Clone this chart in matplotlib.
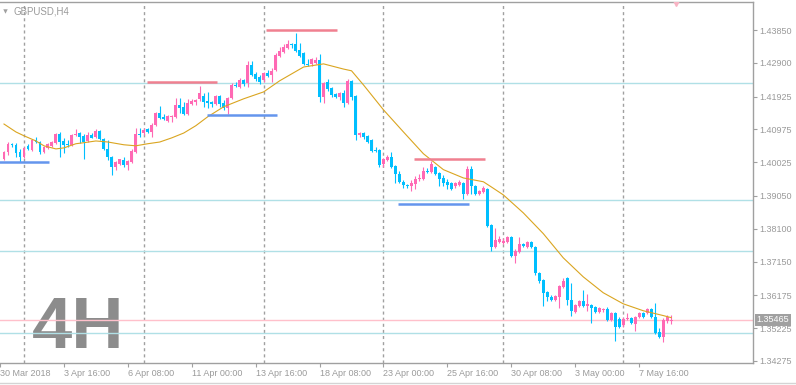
import matplotlib
matplotlib.use("Agg")
import matplotlib.pyplot as plt
import numpy as np

plt.rcParams["font.family"] = ["Liberation Sans", "DejaVu Sans"]

SYMBOL = "GBPUSD,H4"
WATERMARK = "4H"
LAST_PRICE = 1.35465

# H4 bars, bar 0 = Mon 2 Apr 2018 00:00, first bar shown is index -5
FIRST_BAR = -5

opens = [
    1.4012, 1.4033, 1.4056, 1.4053, 1.4033, 1.4018, 1.4050, 1.4038, 1.4067, 1.4061,
    1.4033, 1.4044, 1.4050, 1.4059, 1.4085, 1.4064, 1.4056, 1.4053, 1.4082, 1.4087,
    1.4079, 1.4064, 1.4082, 1.4076, 1.4093, 1.4070, 1.4041, 1.4018, 1.3989, 1.3998,
    1.4009, 1.3995, 1.4004, 1.4033, 1.4085, 1.4087, 1.4099, 1.4090, 1.4110, 1.4145,
    1.4134, 1.4122, 1.4134, 1.4134, 1.4168, 1.4163, 1.4142, 1.4171, 1.4177, 1.4186,
    1.4194, 1.4180, 1.4177, 1.4171, 1.4194, 1.4174, 1.4160, 1.4189, 1.4226, 1.4220,
    1.4241, 1.4232, 1.4284, 1.4258, 1.4249, 1.4241, 1.4261, 1.4255, 1.4270, 1.4310,
    1.4322, 1.4333, 1.4345, 1.4345, 1.4327, 1.4319, 1.4287, 1.4287, 1.4290, 1.4298,
    1.4192, 1.4235, 1.4217, 1.4200, 1.4192, 1.4203, 1.4174, 1.4238, 1.4194, 1.4082,
    1.4087, 1.4079, 1.4067, 1.4038, 1.4038, 1.3998, 1.4009, 1.4018, 1.3992, 1.3969,
    1.3946, 1.3937, 1.3934, 1.3940, 1.3955, 1.3955, 1.3978, 1.3975, 1.3989, 1.3972,
    1.3957, 1.3946, 1.3943, 1.3934, 1.3937, 1.3943, 1.3911, 1.3983, 1.3934, 1.3911,
    1.3917, 1.3926, 1.3822, 1.3758, 1.3772, 1.3770, 1.3772, 1.3787, 1.3732, 1.3744,
    1.3767, 1.3758, 1.3772, 1.3758, 1.3683, 1.3663, 1.3628, 1.3613, 1.3605, 1.3613,
    1.3642, 1.3668, 1.3605, 1.3570, 1.3588, 1.3602, 1.3588, 1.3590, 1.3585, 1.3570,
    1.3576, 1.3579, 1.3547, 1.3567, 1.3550, 1.3533, 1.3550, 1.3553, 1.3535, 1.3556,
    1.3567, 1.3567, 1.3579, 1.3556, 1.3512, 1.3498, 1.3544, 1.3544,
]
highs = [
    1.4035, 1.4061, 1.4058, 1.4059, 1.4041, 1.4047, 1.4056, 1.4070, 1.4076, 1.4064,
    1.4050, 1.4059, 1.4064, 1.4087, 1.4090, 1.4073, 1.4067, 1.4085, 1.4099, 1.4090,
    1.4085, 1.4090, 1.4087, 1.4099, 1.4096, 1.4073, 1.4067, 1.4021, 1.4007, 1.4013,
    1.4018, 1.4009, 1.4041, 1.4102, 1.4102, 1.4102, 1.4102, 1.4116, 1.4148, 1.4165,
    1.4142, 1.4139, 1.4139, 1.4189, 1.4189, 1.4177, 1.4186, 1.4186, 1.4186, 1.4223,
    1.4203, 1.4206, 1.4180, 1.4197, 1.4197, 1.4183, 1.4192, 1.4232, 1.4235, 1.4246,
    1.4244, 1.4296, 1.4296, 1.4264, 1.4255, 1.4264, 1.4270, 1.4275, 1.4319, 1.4336,
    1.4345, 1.4356, 1.4347, 1.4376, 1.4347, 1.4322, 1.4301, 1.4304, 1.4307, 1.4316,
    1.4235, 1.4244, 1.4220, 1.4203, 1.4206, 1.4212, 1.4244, 1.4241, 1.4197, 1.4090,
    1.4090, 1.4082, 1.4070, 1.4047, 1.4041, 1.4015, 1.4024, 1.4033, 1.3995, 1.3978,
    1.3952, 1.3940, 1.3952, 1.3963, 1.3969, 1.3989, 1.3986, 1.4007, 1.3992, 1.3975,
    1.3966, 1.3955, 1.3946, 1.3946, 1.3952, 1.3946, 1.3992, 1.3992, 1.3937, 1.3923,
    1.3934, 1.3929, 1.3824, 1.3813, 1.3790, 1.3784, 1.3790, 1.3790, 1.3752, 1.3787,
    1.3770, 1.3775, 1.3775, 1.3761, 1.3686, 1.3665, 1.3631, 1.3619, 1.3619, 1.3648,
    1.3668, 1.3671, 1.3654, 1.3593, 1.3605, 1.3634, 1.3622, 1.3593, 1.3588, 1.3585,
    1.3582, 1.3585, 1.3570, 1.3570, 1.3556, 1.3556, 1.3567, 1.3556, 1.3559, 1.3570,
    1.3570, 1.3582, 1.3582, 1.3596, 1.3524, 1.3553, 1.3562, 1.3562,
]
lows = [
    1.4009, 1.4024, 1.4047, 1.4018, 1.4003, 1.4015, 1.4038, 1.4035, 1.4059, 1.4027,
    1.4030, 1.4041, 1.4047, 1.4056, 1.4018, 1.4030, 1.4047, 1.4050, 1.4079, 1.4059,
    1.4012, 1.4061, 1.4072, 1.4073, 1.4067, 1.4038, 1.4009, 1.3966, 1.3981, 1.3995,
    1.3989, 1.3981, 1.4001, 1.4030, 1.4076, 1.4082, 1.4087, 1.4076, 1.4108, 1.4128,
    1.4125, 1.4119, 1.4119, 1.4131, 1.4145, 1.4139, 1.4139, 1.4168, 1.4168, 1.4180,
    1.4163, 1.4160, 1.4163, 1.4168, 1.4163, 1.4154, 1.4142, 1.4186, 1.4220, 1.4217,
    1.4223, 1.4220, 1.4252, 1.4238, 1.4229, 1.4235, 1.4249, 1.4235, 1.4267, 1.4307,
    1.4319, 1.4330, 1.4333, 1.4322, 1.4307, 1.4284, 1.4281, 1.4281, 1.4287, 1.4177,
    1.4174, 1.4209, 1.4192, 1.4189, 1.4183, 1.4163, 1.4171, 1.4183, 1.4067, 1.4076,
    1.4070, 1.4059, 1.4033, 1.4033, 1.3989, 1.3989, 1.4007, 1.3986, 1.3943, 1.3943,
    1.3929, 1.3929, 1.3920, 1.3926, 1.3949, 1.3952, 1.3972, 1.3972, 1.3966, 1.3934,
    1.3934, 1.3926, 1.3923, 1.3929, 1.3934, 1.3897, 1.3908, 1.3911, 1.3908, 1.3908,
    1.3914, 1.3816, 1.3746, 1.3755, 1.3770, 1.3767, 1.3770, 1.3729, 1.3712, 1.3741,
    1.3758, 1.3755, 1.3755, 1.3677, 1.3654, 1.3587, 1.3602, 1.3602, 1.3602, 1.3582,
    1.3640, 1.3590, 1.3559, 1.3567, 1.3585, 1.3585, 1.3573, 1.3538, 1.3567, 1.3567,
    1.3570, 1.3544, 1.3544, 1.3486, 1.3524, 1.3527, 1.3547, 1.3535, 1.3515, 1.3553,
    1.3553, 1.3564, 1.3553, 1.3507, 1.3495, 1.3483, 1.3538, 1.3535,
]
closes = [
    1.4033, 1.4055, 1.4053, 1.4030, 1.4018, 1.4044, 1.4041, 1.4067, 1.4061, 1.4033,
    1.4047, 1.4056, 1.4061, 1.4085, 1.4061, 1.4053, 1.4053, 1.4082, 1.4085, 1.4076,
    1.4061, 1.4082, 1.4074, 1.4093, 1.4070, 1.4041, 1.4018, 1.3989, 1.4004, 1.4012,
    1.3995, 1.4007, 1.4035, 1.4085, 1.4082, 1.4096, 1.4090, 1.4110, 1.4145, 1.4131,
    1.4128, 1.4137, 1.4137, 1.4168, 1.4160, 1.4142, 1.4174, 1.4180, 1.4183, 1.4203,
    1.4177, 1.4174, 1.4171, 1.4194, 1.4171, 1.4160, 1.4189, 1.4226, 1.4223, 1.4241,
    1.4229, 1.4284, 1.4255, 1.4244, 1.4235, 1.4261, 1.4252, 1.4267, 1.4313, 1.4324,
    1.4336, 1.4345, 1.4342, 1.4324, 1.4310, 1.4287, 1.4284, 1.4301, 1.4298, 1.4192,
    1.4232, 1.4214, 1.4197, 1.4192, 1.4203, 1.4174, 1.4238, 1.4192, 1.4082, 1.4087,
    1.4076, 1.4061, 1.4035, 1.4035, 1.3995, 1.4012, 1.4018, 1.3989, 1.3969, 1.3946,
    1.3937, 1.3934, 1.3943, 1.3955, 1.3957, 1.3978, 1.3975, 1.3998, 1.3969, 1.3955,
    1.3943, 1.3937, 1.3926, 1.3943, 1.3946, 1.3911, 1.3983, 1.3934, 1.3911, 1.3920,
    1.3929, 1.3819, 1.3758, 1.3778, 1.3781, 1.3775, 1.3787, 1.3732, 1.3746, 1.3767,
    1.3761, 1.3772, 1.3758, 1.3683, 1.3660, 1.3625, 1.3613, 1.3605, 1.3616, 1.3645,
    1.3660, 1.3605, 1.3573, 1.3590, 1.3602, 1.3588, 1.3590, 1.3582, 1.3570, 1.3582,
    1.3579, 1.3547, 1.3567, 1.3527, 1.3527, 1.3550, 1.3553, 1.3538, 1.3556, 1.3567,
    1.3556, 1.3579, 1.3556, 1.3509, 1.3498, 1.3547, 1.3556, 1.35465,
]

# moving average, read at selected bars
ma_bars = [-5, -2, 0, 3, 5, 8, 10, 13, 15, 18, 21, 25, 28, 31, 34, 37, 40, 43, 46,
           50, 55, 60, 64, 67, 70, 75, 80, 82, 85, 90, 95, 100, 105, 110, 115, 117,
           120, 125, 130, 135, 140, 145, 150, 155, 160, 162]
ma_values = [1.4113, 1.4090, 1.4079, 1.4064, 1.4050, 1.4041, 1.4044, 1.4056, 1.4059,
             1.4064, 1.4061, 1.4053, 1.4050, 1.4056, 1.4061, 1.4073, 1.4087, 1.4108,
             1.4134, 1.4163, 1.4186, 1.4206, 1.4238, 1.4258, 1.4278, 1.4287, 1.4272,
             1.4267, 1.4226, 1.4154, 1.4090, 1.4027, 1.3981, 1.3957, 1.3946, 1.3931,
             1.3908, 1.3856, 1.3796, 1.3726, 1.3671, 1.3625, 1.3593, 1.3573, 1.3559,
             1.3553]

# drawn objects
resistance_levels = [1.4235, 1.4385, 1.4012]
resistance_bars = [(31, 48), (61, 78), (98, 115)]
support_levels = [1.4003, 1.4139, 1.3882]
support_bars = [(-6, 6), (46, 63), (94, 111)]
grid_levels = [1.4232, 1.3894, 1.3746, 1.3509]
week_starts = [0, 30, 60, 90, 120, 150]

price_ticks = [1.43850, 1.42900, 1.41925, 1.40975, 1.40025, 1.39050,
               1.38100, 1.37150, 1.36175, 1.35225, 1.34275]
time_tick_bars = [-6, 10, 26, 42, 58, 74, 90, 106, 122, 138, 154]
time_tick_labels = ["30 Mar 2018", "3 Apr 16:00", "6 Apr 08:00", "11 Apr 00:00",
                    "13 Apr 16:00", "18 Apr 08:00", "23 Apr 00:00", "25 Apr 16:00",
                    "30 Apr 08:00", "3 May 00:00", "7 May 16:00"]

BULL = "#ff69b4"
BEAR = "#00bfff"
GREY = "#a0a0a0"
TEXT = "#9a9a9a"

fig = plt.figure(figsize=(7.96, 3.85), dpi=100)
ax = fig.add_axes([0, 22 / 385, 753 / 796, 361 / 385])

o = np.array(opens)
h = np.array(highs)
l = np.array(lows)
c = np.array(closes)
x = np.arange(len(o)) + FIRST_BAR
colors = np.where(c >= o, BULL, BEAR)

for xs in week_starts:
    ax.axvline(xs, color=GREY, lw=1, ls=(0, (2.2, 2.2)), zorder=1)
for lvl in grid_levels:
    ax.axhline(lvl, color="#b0e0e6", lw=1, zorder=1)
ax.axhline(LAST_PRICE, color="#ffc0cb", lw=1, zorder=1)

ax.vlines(x, l, h, colors=colors, lw=0.8, zorder=3)
body = np.maximum(np.abs(c - o), 0.0003)
ax.bar(x, body, bottom=np.minimum(o, c), width=0.72, color=colors, lw=0, zorder=4)

ax.plot(ma_bars, ma_values, color="#daa520", lw=0.8, zorder=5)

for lvl, (b0, b1) in zip(resistance_levels, resistance_bars):
    ax.hlines(lvl, b0 - 0.3, b1 + 0.3, color="#f08090", lw=1.8, zorder=6)
for lvl, (b0, b1) in zip(support_levels, support_bars):
    ax.hlines(lvl, b0 - 0.3, b1 + 0.3, color="#6495ed", lw=1.8, zorder=6)

ax.set_xlim(-5.75, 182.5)
ax.set_ylim(1.34217, 1.44660)

ax.spines["left"].set_visible(False)
for s in ["top", "right", "bottom"]:
    ax.spines[s].set_color(GREY)
    ax.spines[s].set_linewidth(1)

ax.yaxis.tick_right()
ax.set_yticks(price_ticks)
ax.set_yticklabels([f"{v:.5f}" for v in price_ticks])
ax.tick_params(axis="y", direction="out", length=3, width=0.8, color=GREY,
               labelcolor=TEXT, labelsize=6.5, pad=1.5)
ax.set_xticks(time_tick_bars)
ax.set_xticklabels(time_tick_labels)
ax.tick_params(axis="x", direction="out", length=3, width=0.8, color=GREY,
               labelcolor=TEXT, labelsize=6.5, pad=1.5)
for lbl in ax.get_xticklabels():
    lbl.set_ha("left")

# last price tag
ax.text(1.0045, LAST_PRICE, f"{LAST_PRICE:.5f}", transform=ax.get_yaxis_transform(),
        color="white", fontsize=6.5, ha="left", va="center", zorder=10,
        bbox=dict(boxstyle="square,pad=0.2", fc=GREY, ec="none"), clip_on=False)

# header and watermark
ax.plot([5 / 753], [1 - 9 / 361], transform=ax.transAxes, marker="v", ms=3.2,
        color=GREY, mew=0, clip_on=False)
ax.text(14 / 753, 1 - 9 / 361, SYMBOL, transform=ax.transAxes, color=TEXT,
        fontsize=7, ha="left", va="center")
ax.text(32 / 753, 15 / 361, WATERMARK, transform=ax.transAxes, color="#8c8c8c",
        fontsize=52, fontweight="bold", ha="left", va="baseline", zorder=0)
ax.plot([163.3], [1.4465], marker="v", ms=6, color="#f8b4c4", zorder=7)

fig.add_artist(plt.Line2D([0, 1], [2 / 385, 2 / 385], color="#d4d4d4", lw=1))

fig.savefig("out.png", dpi=100)
